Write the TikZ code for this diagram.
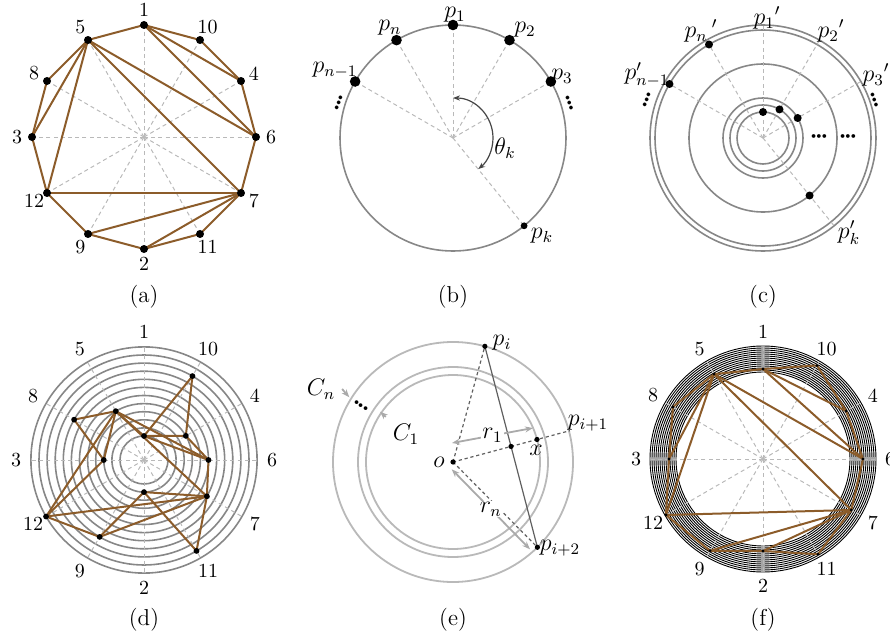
\documentclass[tikz,border=0pt]{standalone}
\usepackage{amsmath}
\usepackage{tikz}
\usetikzlibrary{arrows.meta, calc, positioning}
\definecolor{edgebrown}{RGB}{140,92,42}
\definecolor{ringgray}{RGB}{135,135,135}
\definecolor{spokegray}{RGB}{185,185,185}
\definecolor{paleray}{RGB}{185,185,185}
\definecolor{darkdash}{RGB}{95,95,95}
\definecolor{arrowgray}{RGB}{170,170,170}
\definecolor{thetagray}{RGB}{70,70,70}
\tikzset{
  ring/.style={draw=ringgray, line width=0.8pt},
  band/.style={draw=black, line width=0.45pt},
  palering/.style={draw=paleray, line width=0.9pt},
  spoke/.style={draw=spokegray, line width=0.5pt, dash pattern=on 2pt off 1.6pt},
  edge/.style={draw=edgebrown, line width=1pt},
  vtx/.style={circle, fill=black, inner sep=0pt, minimum size=#1},
  vtx/.default=4pt,
  numlabel/.style={inner sep=0pt, font=\normalsize},
  dotrow/.style={inner sep=0pt},
  radline/.style={draw=darkdash, line width=0.6pt, dash pattern=on 1.6pt off 1.4pt},
  chord/.style={draw=darkdash, line width=0.6pt},
  garrow/.style={{Stealth[length=4pt]}-{Stealth[length=4pt]}, draw=arrowgray, line width=0.9pt},
  tagarrow/.style={-{Stealth[length=4pt]}, draw=arrowgray, line width=0.9pt},
  thetaarrow/.style={{Stealth[length=3.5pt]}-{Stealth[length=3.5pt]}, draw=thetagray, line width=0.6pt}
}
\newcommand{\ringorder}{1,10,4,6,7,11,2,9,12,3,8,5}
\newcommand{\triedges}{1/10,10/4,4/6,6/7,7/11,11/2,2/9,9/12,12/3,3/8,8/5,5/1,1/4,1/6,5/6,5/7,5/3,5/12,12/7,7/9,7/2}
\newcommand{\tightdots}{$\boldsymbol{\mathord{\cdot}\mkern-1.5mu\mathord{\cdot}\mkern-1.5mu\mathord{\cdot}}$}

\begin{document}
\begin{tikzpicture}[x=0.5pt, y=0.5pt, every node/.style={font=\fontsize{11.5}{14}\selectfont}]
  \useasboundingbox (0,0) rectangle (890,639);

  % (a) triangulated polygon
  \begin{scope}[shift={(144,502)}]
    \coordinate (ao) at (0,0);
    \foreach \lab [count=\i from 0] in \ringorder {
      \coordinate (a\lab) at ({90-30*\i}:112);
      \draw[spoke] (ao) -- (a\lab);
      \node[numlabel] (la\lab) at ({90-30*\i}:127) {\lab};
    }
    \foreach \u/\v in \triedges \draw[edge] (a\u) -- (a\v);
    \foreach \lab in \ringorder \node[vtx=4pt] (va\lab) at (a\lab) {};
  \end{scope}
  \node (capa) at (144,342) {(a)};

  % (b) points on one circle
  \begin{scope}[shift={(453,501)}]
    \draw[ring] (0,0) circle [radius=113];
    \coordinate (bo) at (0,0);
    \foreach \nm/\ang in {pn1/150, pn/120, p1/90, p2/60, p3/30, pk/-51} {
      \coordinate (bs\nm) at (\ang:113);
      \draw[spoke] (bo) -- (bs\nm);
    }
    \foreach \nm in {pn1, pn, p1, p2, p3} \node[vtx=5.3pt] (b\nm) at (bs\nm) {};
    \node[vtx=3.4pt] (bpk) at (bspk) {};
    \coordinate (tha) at (90:40);
    \draw[thetaarrow] (tha) arc [start angle=90, end angle=-51, radius=40];
  \end{scope}
  \node (lbp1) at (455,624) {$p_1$};
  \node (lbp2) at (525,609) {$p_2$};
  \node (lbpn) at (390,611) {$p_n$};
  \node (lbpn1) at (335,569) {$p_{n-1}$};
  \node (lbp3) at (562,562) {$p_3$};
  \node (lbpk) at (542,403) {$p_k$};
  \node (lbth) at (505,491) {$\theta_k$};
  \node[dotrow, rotate=70] (bdl) at (339,536) {\tightdots};
  \node[dotrow, rotate=-70] (bdr) at (569,536) {\tightdots};
  \node (capb) at (453,342) {(b)};

  % (c) points moved to rings
  \begin{scope}[shift={(763,501)}]
    \foreach \r in {113,108,74,40,33,26} \draw[ring] (0,0) circle [radius=\r];
    \coordinate (co) at (0,0);
    \foreach \nm/\ang in {pn1/150, pn/120, p1/90, p2/60, p3/30, pk/-51} {
      \coordinate (cs\nm) at (\ang:112);
      \draw[spoke] (co) -- (cs\nm);
    }
    \foreach \nm/\ang/\r in {p1/90/26, p2/60/33, p3/30/40, pk/-51/74, pn/120/108, pn1/150/108}
      \node[vtx=4pt] (c\nm) at (\ang:\r) {};
  \end{scope}
  \node (lcp1) at (767,621) {${p_1}'$};
  \node (lcp2) at (831,608) {${p_2}'$};
  \node[inner sep=1pt] (lcp3) at (876,564) {${p_3}'$};
  \node (lcpn) at (701,608) {${p_n}\,'$};
  \node (lcpn1) at (647,564) {$p'_{n-1}$};
  \node (lcpk) at (849,406) {$p_k'$};
  \node[dotrow] (cdots1) at (819,502) {\tightdots};
  \node[dotrow] (cdots2) at (848,502) {\tightdots};
  \node[dotrow, rotate=70] (cdl) at (647,539) {\tightdots};
  \node[dotrow, rotate=-70] (cdr) at (874,539) {\tightdots};
  \node (capc) at (763,342) {(c)};

  % (d) one ring per point
  \begin{scope}[shift={(144,179)}]
    \foreach \k in {0,...,11} \draw[ring] (0,0) circle [radius={24+8.1*\k}];
    \coordinate (do) at (0,0);
    \foreach \lab [count=\i from 0] in \ringorder {
      \coordinate (ds\lab) at ({90-30*\i}:113);
      \draw[spoke] (do) -- (ds\lab);
      \coordinate (d\lab) at ({90-30*\i}:{24+8.1*(\lab-1)});
      \node[numlabel] (ld\lab) at ({90-30*\i}:128) {\lab};
    }
    \foreach \u/\v in \triedges \draw[edge] (d\u) -- (d\v);
    \foreach \lab in \ringorder \node[vtx=2.9pt] (vd\lab) at (d\lab) {};
  \end{scope}
  \node (capd) at (144,19) {(d)};

  % (e) rings, radii and the chord
  \begin{scope}[shift={(453,177)}]
    \foreach \r in {120,95,87} \draw[palering] (0,0) circle [radius=\r];
    \coordinate (o) at (0,0);
    \coordinate (epi) at (74.6:120);
    \coordinate (epii) at (-45.3:120);
    \coordinate (eend) at (15:121);
    \coordinate (ex) at (15:87);
    \coordinate (eq) at (intersection of o--ex and epi--epii);
    \draw[radline] (o) -- (epi);
    \draw[radline] (o) -- (epii);
    \draw[radline] (o) -- (eend);
    \draw[chord] (epi) -- (epii);
    % radius arrows
    \coordinate (r1a) at (-1,19);
    \coordinate (r1b) at (80,34);
    \draw[garrow] (r1a) -- node[fill=white, inner sep=0.5pt] (lr1) {$r_1$} (r1b);
    \coordinate (rna) at (-1.3,-7.3);
    \coordinate (rnb) at (77,-87.3);
    \draw[garrow] (rna) -- node[fill=white, inner sep=0.5pt] (lrn) {$r_n$} (rnb);
    % ring tags
    \node (lcn) at (-132,73) {$C_n$};
    \coordinate (cnb) at (-103.7,64.7);
    \draw[tagarrow] (lcn.east) -- (cnb);
    \node (lc1) at (-47,28) {$C_1$};
    \coordinate (c1b) at (-73,50.3);
    \draw[tagarrow] (lc1.north west) -- (c1b);
    \node[dotrow, rotate=-34] (edd) at (-92,56) {\tightdots};
    % points
    \foreach \nm in {o, epi, epii, ex, eq} \node[vtx=2.6pt] (v\nm) at (\nm) {};
    \node (lo) at (-14,0) {$o$};
    \node (lx) at (83,12) {$x$};
    \node (lpi) at (49,119) {$p_i$};
    \node (lpii) at (107,-86) {$p_{i+2}$};
    \node (lpi1) at (135,39) {$p_{i+1}$};
  \end{scope}
  \node (cape) at (453,19) {(e)};

  % (f) points on a thin band of rings
  \begin{scope}[shift={(763,180)}]
    \foreach \k in {0,...,13} \draw[band] (0,0) circle [radius={87+2*\k}];
    \coordinate (fo) at (0,0);
    \foreach \lab [count=\i from 0] in \ringorder {
      \coordinate (fs\lab) at ({90-30*\i}:113);
      \draw[spoke] (fo) -- (fs\lab);
      \coordinate (f\lab) at ({90-30*\i}:{88+2*\lab});
      \node[numlabel] (lf\lab) at ({90-30*\i}:127) {\lab};
    }
    \foreach \u/\v in \triedges \draw[edge] (f\u) -- (f\v);
    \foreach \lab in \ringorder \node[vtx=1.6pt] (vf\lab) at (f\lab) {};
  \end{scope}
  \node (capf) at (763,19) {(f)};
\end{tikzpicture}
\end{document}
